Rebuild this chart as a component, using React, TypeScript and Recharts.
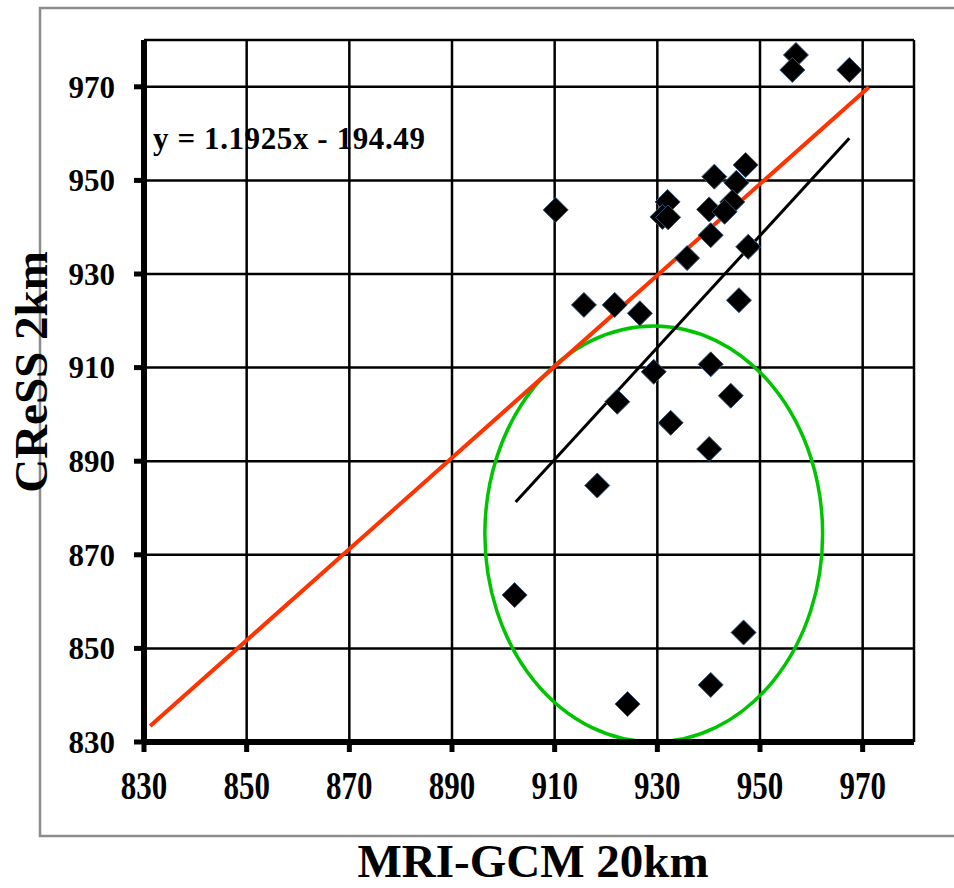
import React from 'react';
import {
  ScatterChart, Scatter, XAxis, YAxis, CartesianGrid, ReferenceLine, ReferenceArea,
} from 'recharts';

// ── data ─────────────────────────────────────────────────────────────────────

const TICKS = [830, 850, 870, 890, 910, 930, 950, 970];

// MRI-GCM 20km (x) and CReSS 2km (y), one entry per case
const mriGcm = [
  957.0, 956.3, 967.4, 910.2, 932.0, 931.0, 932.1, 941.1, 947.2, 945.4, 944.6,
  940.1, 943.1, 940.4, 935.8, 947.7, 945.9, 915.7, 921.7, 926.6, 929.3, 940.4,
  944.3, 922.2, 932.6, 940.1, 918.3, 902.2, 946.8, 940.4, 924.2,
];
const cress = [
  976.8, 973.6, 973.6, 943.7, 945.4, 942.2, 942.1, 950.8, 953.3, 949.5, 945.4,
  943.8, 943.3, 938.3, 933.4, 935.8, 924.4, 923.4, 923.4, 921.6, 909.1, 910.7,
  904.0, 902.7, 898.2, 892.6, 884.8, 861.4, 853.4, 842.2, 838.1,
];

// 1:1 reference line and fitted trend line (y = 1.1925x - 194.49)
const oneToOne = [{ x: 831.2, y: 833.4 }, { x: 971.2, y: 969.9 }];
const trend = [{ x: 902.4, y: 881.3 }, { x: 967.4, y: 959.0 }];

// circled group of cases
const circled = { x1: 896.4, x2: 962.2, y1: 830, y2: 918.9 };

const points = mriGcm.map((x, i) => ({ x, y: cress[i] }));

// ── styles ───────────────────────────────────────────────────────────────────

const FONT = "'Liberation Serif', 'Times New Roman', serif";

const Diamond = (p: any) => {
  const { cx, cy } = p;
  const r = 12.5;
  return (
    <polygon
      points={`${cx},${cy - r} ${cx + r},${cy} ${cx},${cy + r} ${cx - r},${cy}`}
      fill="#000"
      stroke="#35557a"
      strokeWidth={1}
    />
  );
};

const XTick = (p: any) => (
  <text
    transform={`translate(${p.x},${p.y + 43}) scale(1,1.29)`}
    textAnchor="middle"
    fontFamily={FONT}
    fontWeight="bold"
    fontSize={31}
    fill="#000"
  >
    {p.payload.value}
  </text>
);

const YTick = (p: any) => (
  <text
    x={p.x}
    y={p.y}
    dy="0.35em"
    textAnchor="end"
    fontFamily={FONT}
    fontWeight="bold"
    fontSize={31}
    fill="#000"
  >
    {p.payload.value}
  </text>
);

const EllipseShape = (p: any) => (
  <ellipse
    cx={p.x + p.width / 2}
    cy={p.y + p.height / 2}
    rx={p.width / 2}
    ry={p.height / 2}
    fill="none"
    stroke="#00C400"
    strokeWidth={3.5}
  />
);

// ── chart ────────────────────────────────────────────────────────────────────

export default function App() {
  return (
    <div style={{ position: 'absolute', left: 0, top: 0, width: 954, height: 888, background: '#fff' }}>
      <svg width={954} height={888} style={{ position: 'absolute', left: 0, top: 0 }}>
        <rect x={40} y={8} width={940} height={828} fill="none" stroke="#8c8c8c" strokeWidth={2.5} />
      </svg>
      <div style={{ position: 'absolute', left: 0, top: 0 }}>
        <ScatterChart width={954} height={888} margin={{ top: 40, right: 40, bottom: 86, left: 0 }}>
          <CartesianGrid stroke="#000" strokeWidth={2.5} />
          <XAxis
            type="number"
            dataKey="x"
            domain={[830, 980]}
            ticks={TICKS}
            allowDataOverflow
            height={60}
            axisLine={{ stroke: '#000', strokeWidth: 6 }}
            tickLine={{ stroke: '#000', strokeWidth: 5 }}
            tickSize={10}
            tickMargin={4}
            tick={<XTick />}
            interval={0}
          />
          <YAxis
            type="number"
            dataKey="y"
            domain={[830, 980]}
            ticks={TICKS}
            allowDataOverflow
            width={144}
            axisLine={{ stroke: '#000', strokeWidth: 6 }}
            tickLine={{ stroke: '#000', strokeWidth: 5 }}
            tickSize={10}
            tickMargin={19}
            tick={<YTick />}
            interval={0}
          />
          <ReferenceArea
            x1={circled.x1}
            x2={circled.x2}
            y1={circled.y1}
            y2={circled.y2}
            ifOverflow="visible"
            shape={<EllipseShape />}
          />
          <ReferenceLine segment={oneToOne} stroke="#FF3300" strokeWidth={4} />
          <ReferenceLine segment={trend} stroke="#000" strokeWidth={3} />
          <Scatter data={points} shape={<Diamond />} isAnimationActive={false} />
        </ScatterChart>
      </div>
      <svg width={954} height={888} style={{ position: 'absolute', left: 0, top: 0, pointerEvents: 'none' }}>
        <text x={153} y={149} fontFamily={FONT} fontWeight="bold" fontSize={31} letterSpacing={0.6} fill="#000">
          y = 1.1925x - 194.49
        </text>
        <text
          transform="translate(47,372) rotate(-90)"
          textAnchor="middle"
          fontFamily={FONT}
          fontWeight="bold"
          fontSize={47}
          fill="#000"
        >
          CReSS 2km
        </text>
        <text x={533} y={877} textAnchor="middle" fontFamily={FONT} fontWeight="bold" fontSize={47} fill="#000">
          MRI-GCM 20km
        </text>
      </svg>
    </div>
  );
}
